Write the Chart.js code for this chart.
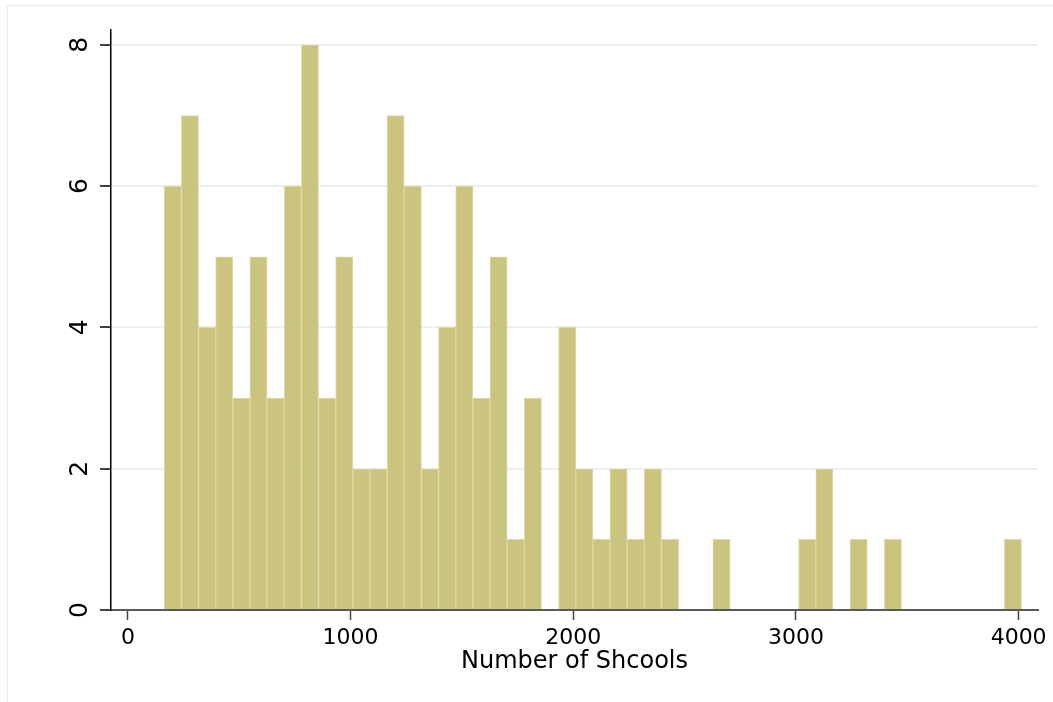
<!DOCTYPE html>
<html>
<head>
<meta charset="utf-8">
<script src="https://cdn.jsdelivr.net/npm/chart.js@4/dist/chart.umd.min.js"></script>
<style>
  body { margin: 0; background: #fff; }
  #wrap { position: relative; width: 1053px; height: 702px; overflow: hidden; }
  #frame { position: absolute; left: 7px; top: 5px; width: 1100px; height: 800px;
           border-left: 1px solid #e4ecef; border-top: 1px solid #e4ecef; }
  canvas { position: absolute; left: 0; top: 0; }
</style>
</head>
<body>
<div id="wrap">
  <div id="frame"></div>
  <canvas id="hist" width="1053" height="702"></canvas>
</div>
<script>
// histogram bins (start + width) and counts
const binStart = 163;
const binWidth = 77.0;
const counts = [6, 7, 4, 5, 3, 5, 3, 6, 8, 3,
                5, 2, 2, 7, 6, 2, 4, 6, 3, 5,
                1, 3, 0, 4, 2, 1, 2, 1, 2, 1,
                0, 0, 1, 0, 0, 0, 0, 1, 2, 0,
                1, 0, 1, 0, 0, 0, 0, 0, 0, 1];
const xTicks = [0, 1000, 2000, 3000, 4000];
const yTicks = [0, 2, 4, 6, 8];

const points = counts.map((c, i) => ({ x: binStart + binWidth * (i + 0.5), y: c }));

// stata draws the y labels turned on their side
const rotatedYLabels = {
  id: "rotatedYLabels",
  afterDraw(chart) {
    const ctx = chart.ctx;
    const y = chart.scales.y;
    ctx.save();
    ctx.font = "25px 'DejaVu Sans'";
    ctx.fillStyle = "#000";
    ctx.textAlign = "center";
    ctx.textBaseline = "middle";
    y.ticks.forEach(t => {
      ctx.save();
      ctx.translate(y.right - 11 - 20, y.getPixelForValue(t.value));
      ctx.rotate(-Math.PI / 2);
      ctx.fillText(String(t.value), 0, 0);
      ctx.restore();
    });
    ctx.restore();
  }
};

new Chart(document.getElementById("hist"), {
  type: "bar",
  data: {
    datasets: [{
      data: points,
      backgroundColor: "rgb(203, 196, 127)",
      borderColor: "rgb(222, 217, 166)",
      borderWidth: 1,
      barPercentage: 1,
      categoryPercentage: 1
    }]
  },
  options: {
    responsive: false,
    animation: false,
    layout: { padding: { left: 0, top: 30, right: 15, bottom: 0 } },
    plugins: { legend: { display: false }, tooltip: { enabled: false } },
    scales: {
      x: {
        type: "linear",
        min: -76,
        max: 4087,
        offset: false,
        afterBuildTicks: s => { s.ticks = xTicks.map(v => ({ value: v })); },
        afterFit: s => { s.height = 92; s.paddingRight = 0; s.paddingLeft = 0; },
        grid: { offset: false, drawOnChartArea: false, drawTicks: true, tickLength: 10, tickColor: "#444", tickWidth: 1.5 },
        border: { color: "#5a5a5a", width: 2 },
        ticks: { color: "#000", font: { family: "DejaVu Sans", size: 22 }, padding: 5, maxRotation: 0,
                 callback: v => String(v) },
        title: { display: true, text: "Number of Shcools", color: "#000",
                 font: { family: "DejaVu Sans", size: 24 }, padding: { top: 0, bottom: 26 } }
      },
      y: {
        min: 0,
        max: 8.21,
        afterBuildTicks: s => { s.ticks = yTicks.map(v => ({ value: v })); },
        afterFit: s => { s.width = 111; },
        grid: { color: "#eaf1f3", lineWidth: 2, tickLength: 11, tickColor: "#000", tickWidth: 1.5 },
        border: { color: "#000", width: 1.5 },
        ticks: { display: false }
      }
    }
  },
  plugins: [rotatedYLabels]
});
</script>
</body>
</html>
